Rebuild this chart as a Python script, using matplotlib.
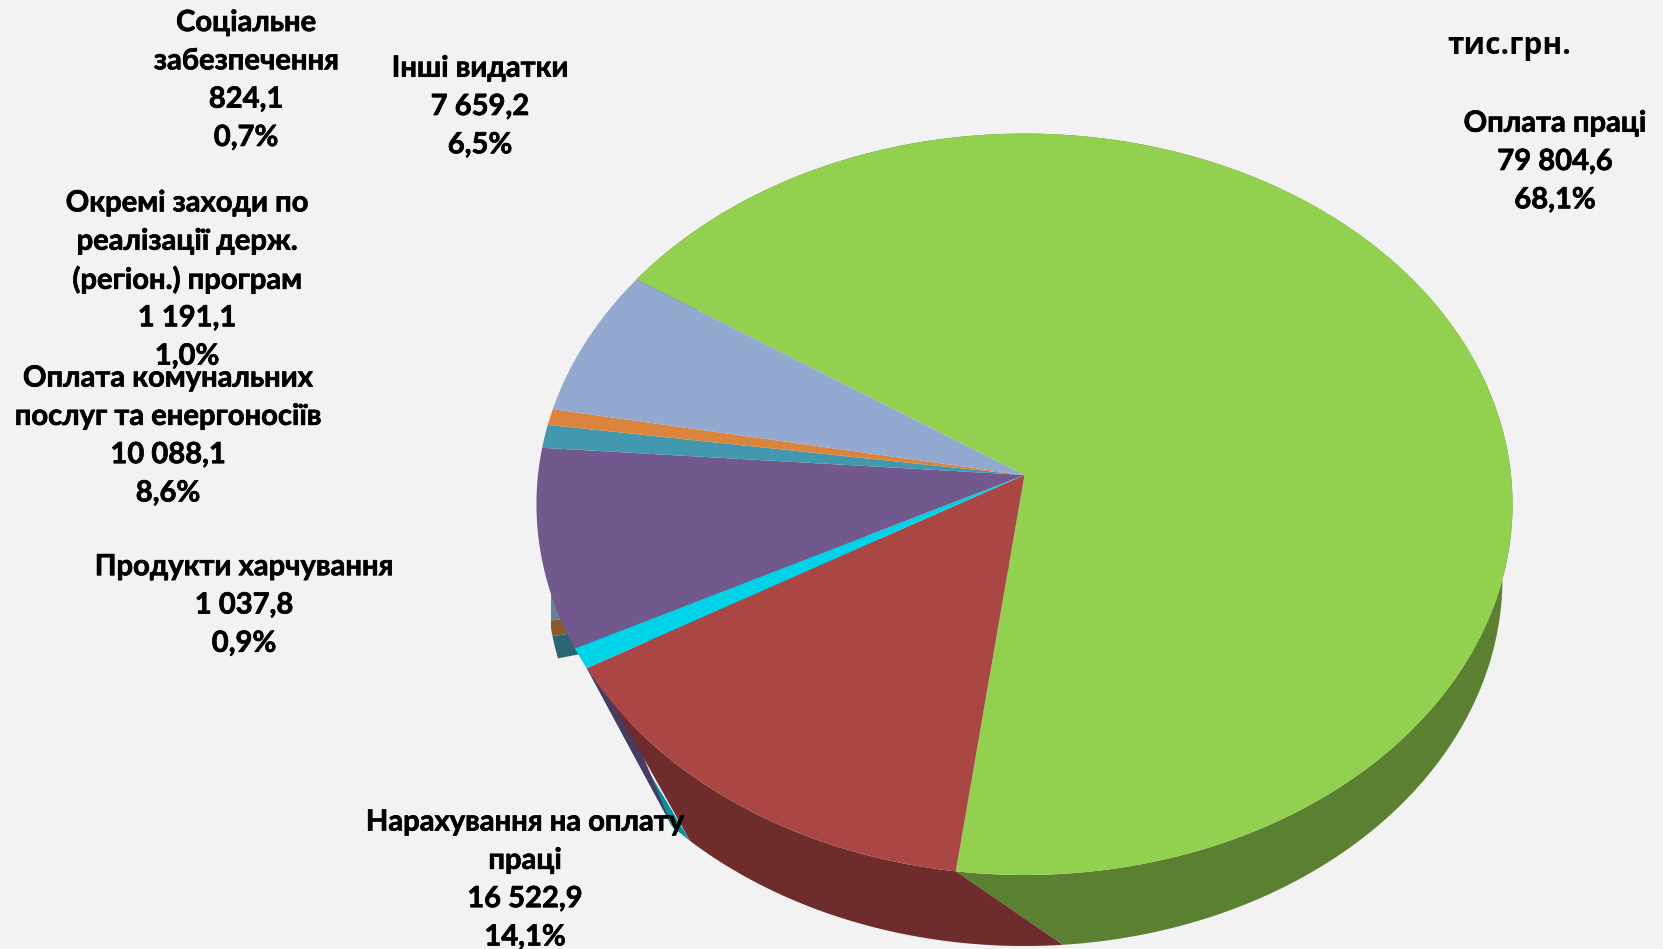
#!/usr/bin/python

import numpy as np
import matplotlib
matplotlib.use('Agg')
import matplotlib.pyplot as plt
import matplotlib.patheffects as pe

names = [
    ['Оплата праці'],
    ['Нарахування на оплату', 'праці'],
    ['Продукти харчування'],
    ['Оплата комунальних', 'послуг та енергоносіїв'],
    ['Окремі заходи по', 'реалізації держ.', '(регіон.) програм'],
    ['Соціальне', 'забезпечення'],
    ['Інші видатки'],
]
values = [79804.6, 16522.9, 1037.8, 10088.1, 1191.1, 824.1, 7659.2]
top_colors = ['#92d050', '#aa4644', '#00d2e8', '#72598d', '#4198af', '#db843d', '#93a9cf']
side_colors = ['#5c8031', '#6e2c2c', '#0a8fa0', '#4a3a60', '#2c6474', '#8a5a2a', '#6b7f98']
label_x = [1555, 525, 244, 168, 187, 246, 480]
label_y = [162, 880, 605.5, 436, 280, 80.5, 107]

BG = '#f2f2f2'
START = -57.5
APEX = (1024.5, 475)
K = 0.079
TOP_A, TOP_B = 486.5, 368.4
LOW = (1024.5, 578, 478, 368)
LOW_APEX = (1024.5, 568)
LINE = 38.3


def top_pts(deg):
    # small correction for the way the perspective bends the angles on the left
    t = np.radians(deg)
    t = t + np.radians(-0.59 - 2.09 * np.sin(t))
    w = 1 + K * np.cos(t)
    return APEX[0] + TOP_A * np.sin(t) / w, APEX[1] - TOP_B * np.cos(t) / w


def low_pts(deg):
    # the lower rim is turned against the upper one, a bit more towards the left
    deg = np.asarray(deg, dtype=float)
    t = np.radians(deg - 12.4 - (deg - 187.67) * 0.035)
    return LOW[0] + LOW[2] * np.sin(t), LOW[1] - LOW[3] * np.cos(t)


def fmt(v):
    return f'{v:,.1f}'.replace(',', ' ').replace('.', ',')


figure = plt.figure(figsize=(16.63, 9.49), dpi=100, facecolor=BG)
axes = figure.add_axes([0, 0, 1, 1])
axes.set_xlim(0, 1663)
axes.set_ylim(949, 0)
axes.axis('off')

total = sum(values)
edges = START + np.cumsum([0] + values) / total * 360.0

# small bits of the bottom face that stick out on the left
for i in [6, 5, 4]:
    arc = np.linspace(edges[i], edges[i + 1], 30)
    xs, ys = low_pts(arc)
    xs = np.maximum(xs, 551)
    axes.fill(np.r_[LOW_APEX[0], xs], np.r_[LOW_APEX[1], ys], color=side_colors[i], lw=0)

# slivers under the cyan and purple slices
ax_, ay_ = top_pts(edges[2])
ex, ey = low_pts(edges[2])
bx, by = low_pts(edges[3])
axes.fill([ax_, ex, bx], [ay_, ey, by], color=side_colors[2], lw=0)
axes.fill([ax_, ax_ + 20, bx], [ay_, ay_, by], color=side_colors[3], lw=0)

# outer walls, the red one stops short of its slice edge so the slivers show
for i, cut in [(0, 0), (1, 6)]:
    arc = np.linspace(edges[i], edges[i + 1] - cut, 200)
    tx, ty = top_pts(arc)
    lx, ly = low_pts(np.linspace(edges[i], edges[i + 1], 200))
    axes.fill(np.r_[tx, lx[::-1]], np.r_[ty, ly[::-1]], color=side_colors[i], lw=0)

# top face
for i in range(len(values)):
    arc = np.linspace(edges[i], edges[i + 1], 200)
    tx, ty = top_pts(arc)
    axes.fill(np.r_[APEX[0], tx], np.r_[APEX[1], ty], color=top_colors[i], lw=0)

heavier = [pe.withStroke(linewidth=0.5, foreground='black')]
for name, value, x, y in zip(names, values, label_x, label_y):
    lines = name + [fmt(value), f'{value / total * 100:.1f}%'.replace('.', ',')]
    first = y - (len(lines) - 1) * LINE / 2
    for n, line in enumerate(lines):
        axes.text(x, first + n * LINE, line, ha='center', va='center', color='black',
                  family=['Lato', 'Open Sans'], weight='bold', fontsize=21,
                  path_effects=heavier)

axes.text(1509, 45.5, 'тис.грн.', ha='center', va='center', color='black',
          family=['Open Sans'], weight='bold', fontsize=21.5)

figure.savefig('out.png', facecolor=BG)
